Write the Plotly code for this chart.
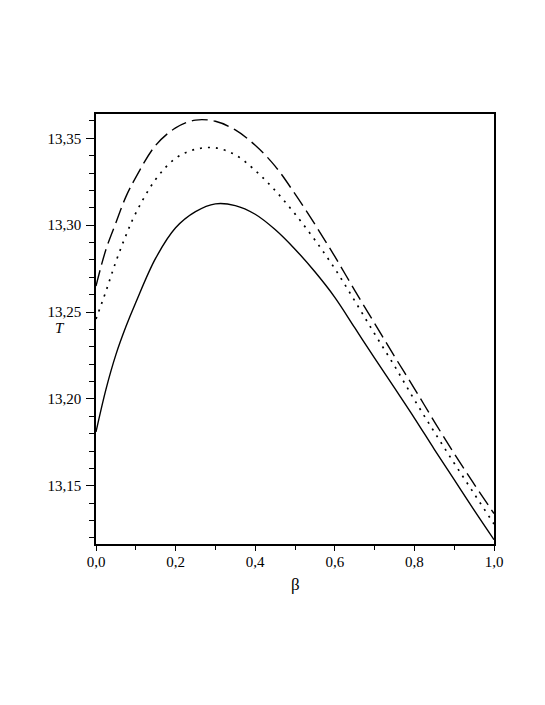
import plotly.graph_objects as go

beta = [0.0, 0.025, 0.05, 0.075, 0.10, 0.15, 0.20, 0.25, 0.30, 0.35, 0.40, 0.45, 0.50,
        0.55, 0.60, 0.65, 0.70, 0.75, 0.80, 0.85, 0.90, 0.95, 1.0]

T_solid = [13.181, 13.2055, 13.2255, 13.2415, 13.2555, 13.281, 13.2985, 13.3078, 13.3123, 13.3113, 13.3063, 13.2975, 13.2862,
           13.2732, 13.2585, 13.241, 13.2235, 13.2063, 13.189, 13.171, 13.1535, 13.136, 13.119]

T_dot = [13.246, 13.262, 13.279, 13.294, 13.307, 13.3264, 13.3385, 13.3437, 13.3445, 13.3405, 13.3315, 13.320, 13.3065,
         13.2915, 13.275, 13.2565, 13.2375, 13.219, 13.1995, 13.181, 13.163, 13.1455, 13.128]

T_dash = [13.265, 13.286, 13.3014, 13.3163, 13.3275, 13.346, 13.356, 13.3605, 13.3598, 13.3548, 13.346, 13.334, 13.318,
          13.3005, 13.282, 13.2625, 13.2435, 13.2245, 13.206, 13.187, 13.1685, 13.151, 13.134]

x_ticks = [0, 0.2, 0.4, 0.6, 0.8, 1.0]
x_minor = [0.1, 0.3, 0.5, 0.7, 0.9]
y_ticks = [13.15, 13.20, 13.25, 13.30, 13.35]
y_minor = [13.12, 13.13, 13.14, 13.16, 13.17, 13.18, 13.19, 13.21, 13.22, 13.23, 13.24,
           13.26, 13.27, 13.28, 13.29, 13.31, 13.32, 13.33, 13.34, 13.36]

font_family = "Liberation Serif, Times New Roman, serif"

fig = go.Figure()
fig.add_trace(go.Scatter(x=beta, y=T_solid, mode="lines",
                         line=dict(color="black", width=1.4, shape="spline", smoothing=1.0)))
fig.add_trace(go.Scatter(x=beta, y=T_dot, mode="lines",
                         line=dict(color="black", width=1.7, dash="2px,6px", shape="spline", smoothing=1.0)))
fig.add_trace(go.Scatter(x=beta, y=T_dash, mode="lines",
                         line=dict(color="black", width=1.4, dash="16px,6px", shape="spline", smoothing=1.0)))

fig.update_layout(
    width=545, height=705,
    margin=dict(l=88, r=59, t=106, b=169),
    paper_bgcolor="white", plot_bgcolor="white",
    showlegend=False,
    separators=", ",
    font=dict(family=font_family, size=15, color="black"),
    xaxis=dict(range=[0, 1.0], tickvals=x_ticks, tickformat=".1f",
               ticks="outside", ticklen=5, tickwidth=1, tickcolor="black", ticklabelstandoff=-2,
               minor=dict(tickvals=x_minor, ticks="outside", ticklen=4, tickcolor="black"),
               showline=True, linecolor="black", linewidth=1.5, mirror=True,
               showgrid=False, zeroline=False, fixedrange=True),
    yaxis=dict(range=[13.1165, 13.364], tickvals=y_ticks, tickformat=".2f",
               ticks="outside", ticklen=8, tickwidth=1, tickcolor="black", ticklabelstandoff=2,
               minor=dict(tickvals=y_minor, ticks="outside", ticklen=5, tickcolor="black"),
               showline=True, linecolor="black", linewidth=1.5, mirror=True,
               showgrid=False, zeroline=False, fixedrange=True),
    annotations=[
        dict(text="T", x=-0.0905, y=0.502, xref="paper", yref="paper", showarrow=False,
             xanchor="center", yanchor="middle",
             font=dict(family=font_family, size=15, style="italic")),
        dict(text="β", x=0.5025, y=-0.0953, xref="paper", yref="paper", showarrow=False,
             xanchor="center", yanchor="middle",
             font=dict(family=font_family, size=17)),
    ],
)

fig.write_html("out.html")
